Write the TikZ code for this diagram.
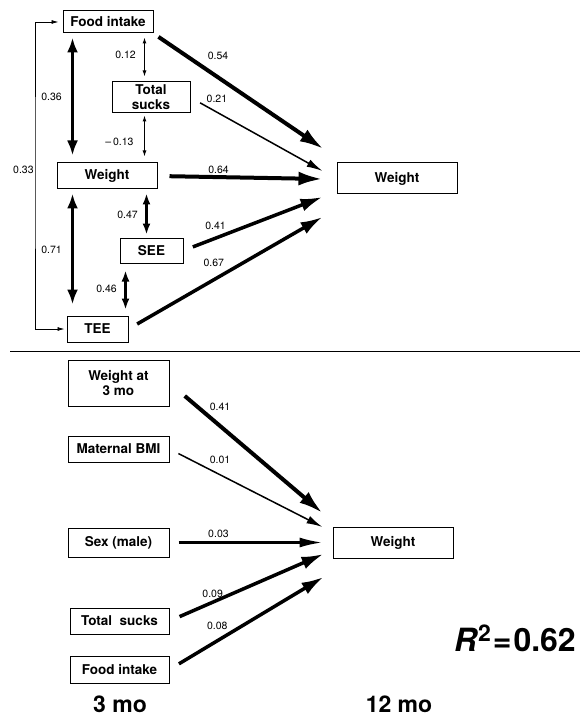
\documentclass[tikz,border=0pt]{standalone}
\usepackage{fontspec}
\setmainfont{TeX Gyre Heros}
\usetikzlibrary{arrows.meta}

\begin{document}
\begin{tikzpicture}[x=1pt,y=-1pt,
mybox/.style={
  draw,
  line width=1pt,
  inner sep=0pt,
  align=center,
  font=\bfseries\fontsize{13.5}{15}\selectfont
  },
mynum/.style={font=\fontsize{10.5}{12}\selectfont,inner sep=1pt},
mylabel/.style={font=\bfseries\fontsize{23}{25}\selectfont,inner sep=0pt,anchor=base},
heavyarr/.style={line width=4pt,-{Latex[length=24pt,width=14pt]}},
strongarr/.style={line width=3.5pt,-{Latex[length=22pt,width=13pt]}},
mediumarr/.style={line width=2.5pt,-{Latex[length=23pt,width=10pt]}},
lightarr/.style={line width=1.5pt,-{Latex[length=16pt,width=8pt]}},
bigdbl/.style={line width=3pt,{Latex[length=15pt,width=11pt]}-{Latex[length=15pt,width=11pt]}},
middbl/.style={line width=2.5pt,{Latex[length=11pt,width=8pt]}-{Latex[length=11pt,width=8pt]}},
thindbl/.style={line width=1pt,{Latex[length=6pt,width=4pt]}-{Latex[length=6pt,width=4pt]}}
]
\useasboundingbox (0,0) rectangle (586,719);

% 3 mo -> 12 mo, measured
\node[mybox,minimum width=90pt,minimum height=22pt] (fi) at (108,22) {Food intake};
\node[mybox,minimum width=78pt,minimum height=31pt] (ts) at (151,97.5) {Total\\sucks};
\node[mybox,minimum width=100pt,minimum height=26pt] (w3) at (107,176) {Weight};
\node[mybox,minimum width=63pt,minimum height=25pt] (see) at (151.5,250.5) {SEE};
\node[mybox,minimum width=61pt,minimum height=26pt] (tee) at (97.5,329) {TEE};
\node[mybox,minimum width=120pt,minimum height=31pt] (w12) at (397,178.5) {Weight};

\coordinate (t1) at ([shift={(-13,-29.5)}]w12.west);
\coordinate (t2) at ([shift={(-14,-7.5)}]w12.west);
\coordinate (t3) at ([shift={(-14,0.5)}]w12.west);
\coordinate (t4) at ([shift={(-14,18.5)}]w12.west);
\coordinate (t5) at ([shift={(-14,38.5)}]w12.west);
\coordinate (c33) at (35,170);

\path
(fi.south east) edge[heavyarr,shorten <=6pt] node[mynum,pos=.38,yshift=22pt] {0.54} (t1)
(ts.east) edge[lightarr,shorten <=11pt] node[mynum,pos=.2,yshift=13pt] {0.21} (t2)
(w3.east) edge[heavyarr,shorten <=12pt] node[mynum,pos=.37,yshift=7pt] {0.64} (t3)
(see.east) edge[strongarr,shorten <=10pt] node[mynum,pos=.23,yshift=12pt] {0.41} (t4)
(tee.east) edge[strongarr,shorten <=10pt] node[mynum,pos=.44,yshift=17pt] {0.67} (t5);

\path
([xshift=10pt]fi.south west) edge[bigdbl,shorten <=4pt,shorten >=7pt] node[mynum,pos=.49,xshift=-21pt] {0.36} ([xshift=16pt]w3.north west)
([xshift=82pt]fi.south west) edge[thindbl,shorten <=4pt,shorten >=5pt] node[mynum,pos=.45,xshift=-19pt] {0.12} ([xshift=33pt]ts.north west)
([xshift=33pt]ts.south west) edge[thindbl,shorten <=2pt,shorten >=6pt] node[mynum,pos=.58,xshift=-25pt] {--\,0.13} ([xshift=88pt]w3.north west)
([xshift=90pt]w3.south west) edge[middbl,shorten <=4pt,shorten >=3pt] node[mynum,pos=.53,xshift=-19pt] {0.47} ([xshift=27pt]see.north west)
([xshift=16pt]w3.south west) edge[bigdbl,shorten <=4pt,shorten >=11pt] node[mynum,pos=.48,xshift=-21pt] {0.71} ([xshift=6pt]tee.north west)
([xshift=6pt]see.south west) edge[middbl,shorten <=7pt,shorten >=6pt] node[mynum,pos=.49,xshift=-19pt] {0.46} ([xshift=59pt]tee.north west);

\draw[line width=.8pt,{Latex[length=7pt,width=4pt]}-{Latex[length=7pt,width=4pt]},shorten <=4pt,shorten >=2pt]
  (fi.west) -| (c33) node[mynum,left] {0.33} |- (tee.west);

\draw[line width=1pt] (10,351) -- (580,351);

% 12 mo, regression
\node[mybox,minimum width=101pt,minimum height=46pt] (w3m) at (118.5,383) {Weight at\\3 mo};
\node[mybox,minimum width=101pt,minimum height=26pt] (mbmi) at (118.5,449) {Maternal BMI};
\node[mybox,minimum width=101pt,minimum height=29pt] (sex) at (118.5,542.5) {Sex (male)};
\node[mybox,minimum width=99pt,minimum height=26pt] (ts2) at (119.5,621) {Total\ \ sucks};
\node[mybox,minimum width=99pt,minimum height=27pt] (fi2) at (119.5,669.5) {Food intake};
\node[mybox,minimum width=120pt,minimum height=31pt] (w12b) at (393,542.5) {Weight};

\coordinate (b1) at ([shift={(-10,-29.5)}]w12b.west);
\coordinate (b2) at ([shift={(-10,-15.5)}]w12b.west);
\coordinate (b3) at ([shift={(-10,0)}]w12b.west);
\coordinate (b4) at ([shift={(-9,11.5)}]w12b.west);
\coordinate (b5) at ([shift={(-9,34.5)}]w12b.west);

\path
(w3m.east) edge[heavyarr,shorten <=20pt] node[mynum,pos=.33,yshift=19pt] {0.41} (b1)
(mbmi.east) edge[lightarr,shorten <=10pt] node[mynum,pos=.33,yshift=15pt] {0.01} (b2)
(sex.east) edge[mediumarr,shorten <=9pt] node[mynum,pos=.32,yshift=8.5pt] {0.03} (b3)
(ts2.east) edge[strongarr,shorten <=11pt] node[mynum,pos=.3,yshift=7pt,xshift=-3pt] {0.09} (b4)
(fi2.east) edge[strongarr,shorten <=11pt] node[mynum,pos=.31,yshift=15pt] {0.08} (b5);

\node[mylabel] (mo3) at (120,712) {3 mo};
\node[mylabel] (mo12) at (399,712) {12 mo};
\node[inner sep=0pt,font=\bfseries\fontsize{32}{34}\selectfont] (rsq) at (515,638)
  {\textit{R}\raisebox{10pt}{\fontsize{23}{23}\selectfont 2}\kern2pt=\kern2pt0.62};
\end{tikzpicture}
\end{document}
